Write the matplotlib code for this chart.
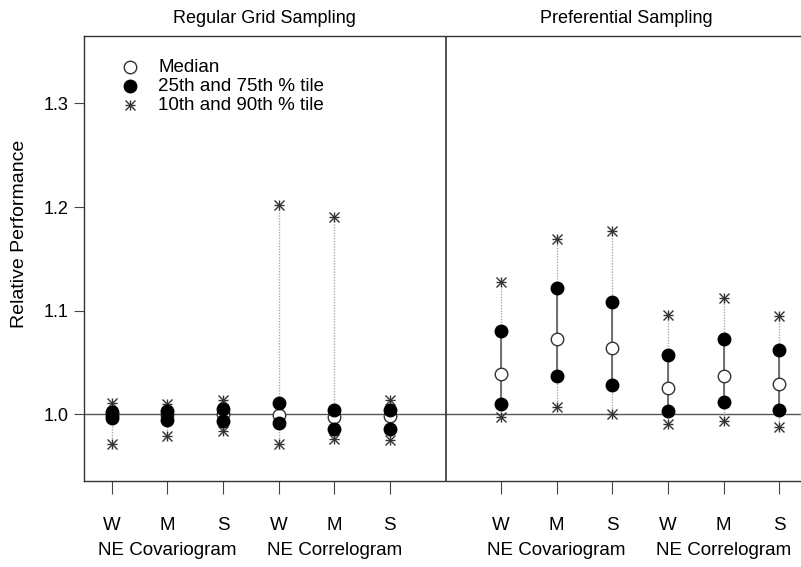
import numpy as np
import matplotlib
matplotlib.use("Agg")
import matplotlib.pyplot as plt
import matplotlib.transforms as mtransforms

plt.rcParams['font.family'] = ['Liberation Sans', 'DejaVu Sans']

# positions: 1-6 regular grid, 8-13 preferential
xpos = [1, 2, 3, 4, 5, 6, 8, 9, 10, 11, 12, 13]
tick_labels = ["W", "M", "S", "W", "M", "S", "W", "M", "S", "W", "M", "S"]
group_labels = ["NE Covariogram", "NE Correlogram", "NE Covariogram", "NE Correlogram"]
group_centers = [2, 5, 9, 12]
panel_titles = ["Regular Grid Sampling", "Preferential Sampling"]
legend_labels = ["Median", "25th and 75th % tile", "10th and 90th % tile"]

p10 = [0.971, 0.979, 0.984, 0.971, 0.976, 0.975,
       0.997, 1.007, 1.000, 0.990, 0.993, 0.987]
q25 = [0.996, 0.994, 0.993, 0.991, 0.986, 0.986,
       1.010, 1.037, 1.028, 1.003, 1.012, 1.004]
med = [0.999, 0.999, 1.000, 0.999, 0.997, 0.998,
       1.039, 1.072, 1.064, 1.025, 1.037, 1.029]
q75 = [1.002, 1.003, 1.0045, 1.011, 1.004, 1.004,
       1.0805, 1.122, 1.1085, 1.057, 1.072, 1.0615]
p90 = [1.011, 1.010, 1.0135, 1.202, 1.190, 1.014,
       1.1275, 1.169, 1.177, 1.096, 1.112, 1.095]

fig = plt.figure(figsize=(8.01, 5.67), dpi=100)
ax = fig.add_axes([84 / 801, 86 / 567, 723 / 801, 445 / 567])

# reference line and panel divider
ax.axhline(1.0, color="#555555", lw=1.0, zorder=1)
ax.axvline(7, color="#333333", lw=1.2, zorder=1)

# whiskers
ax.vlines(xpos, p10, p90, colors="#aaaaaa", linestyles=(0, (1, 1)), lw=1.0, zorder=2)
ax.vlines(xpos, q25, q75, colors="#666666", lw=1.3, zorder=2)

star_kw = dict(ls="none", color="#333333", ms=7.5, mew=1.0, zorder=3)
for vals in (p10, p90):
    ax.plot(xpos, vals, marker="+", **star_kw)
    ax.plot(xpos, vals, marker="x", **star_kw)
ax.plot(xpos, med, "o", ms=9, mfc="white", mec="#333333", mew=1.0, zorder=4)
ax.plot(xpos, q25, "o", ms=9, mfc="black", mec="black", zorder=5)
ax.plot(xpos, q75, "o", ms=9, mfc="black", mec="black", zorder=5)

ax.set_xlim(0.5, 13.5)
ax.set_ylim(0.9353, 1.3652)
ax.set_yticks([1.0, 1.1, 1.2, 1.3])
ax.set_yticklabels(["1.0", "1.1", "1.2", "1.3"])
ax.set_xticks(xpos)
ax.set_xticklabels(tick_labels)
ax.tick_params(axis="x", length=9, pad=17, labelsize=13.5, color="#444444")
ax.tick_params(axis="y", length=7, pad=4, labelsize=13, color="#444444")
for s in ["left", "top", "bottom"]:
    ax.spines[s].set_color("#333333")
    ax.spines[s].set_linewidth(1.0)
ax.spines["right"].set_visible(False)

ax.set_ylabel("Relative Performance", fontsize=14)
ax.yaxis.set_label_coords(-0.077, 0.555)

trans = mtransforms.blended_transform_factory(ax.transData, fig.transFigure)
for xc, lab in zip(group_centers, group_labels):
    ax.text(xc, 0.029, lab, transform=trans, ha="center", va="center", fontsize=13.5)
for xc, lab in zip([3.75, 10.25], panel_titles):
    ax.text(xc, 0.968, lab, transform=trans, ha="center", va="center", fontsize=13)

# legend, drawn in axes fraction
leg_y = [0.930, 0.887, 0.844]
mx, tx = 0.0636, 0.103
ax.plot(mx, leg_y[0], "o", ms=9, mfc="white", mec="#333333", transform=ax.transAxes, clip_on=False)
ax.plot(mx, leg_y[1], "o", ms=9, mfc="black", mec="black", transform=ax.transAxes, clip_on=False)
ax.plot(mx, leg_y[2], marker="+", transform=ax.transAxes, **star_kw)
ax.plot(mx, leg_y[2], marker="x", transform=ax.transAxes, **star_kw)
for y, lab in zip(leg_y, legend_labels):
    ax.text(tx, y, lab, transform=ax.transAxes, ha="left", va="center", fontsize=13.5)

fig.savefig("out.png", dpi=100)
